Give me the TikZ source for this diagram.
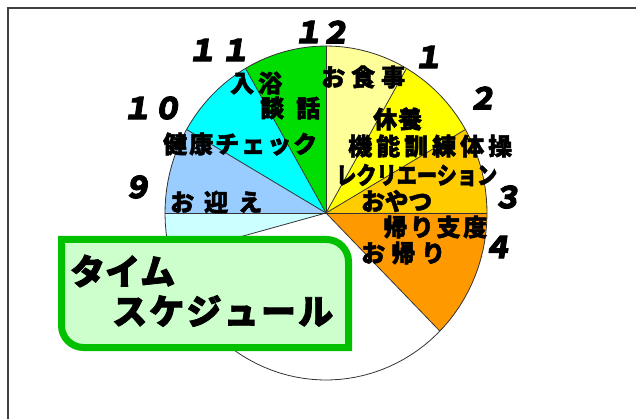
\documentclass[tikz,border=0pt]{standalone}
\usepackage{fontspec}
\usepackage{graphicx}
\newfontfamily\jp{Noto Sans CJK JP}
\definecolor{pLY}{HTML}{FFFF99}
\definecolor{pY}{HTML}{FFFF00}
\definecolor{pG}{HTML}{FFCC00}
\definecolor{pO}{HTML}{FF9900}
\definecolor{pLC}{HTML}{CCFFFF}
\definecolor{pLB}{HTML}{99CCFF}
\definecolor{pC}{HTML}{00FFFF}
\definecolor{pGr}{HTML}{00DD00}
\definecolor{boxFill}{HTML}{CCFFCC}
\definecolor{boxLine}{HTML}{00C000}
\def\pcx{326}\def\pcy{213}\def\prx{161}\def\pry{167}
\newcommand\sect[3]{\fill[#3] (O) -- plot[domain=#1:#2,samples=40] ({\pcx+\prx*sin(\x)},{\pcy-\pry*cos(\x)}) -- cycle;}
\newcommand\sprd[2]{\makebox[#1][s]{#2}}
\tikzset{
  pieline/.style={draw=black!80, line width=0.8pt},
  lbl/.style={inner sep=0, anchor=west, font=\jp\bfseries\addfontfeatures{FakeBold=2}\fontsize{24}{26}\selectfont},
  num/.style={inner sep=0, font=\jp\bfseries\addfontfeatures{FakeSlant=0.15,FakeBold=3}\fontsize{30}{30}\selectfont},
  ttl/.style={inner sep=0, anchor=west, font=\jp\bfseries\addfontfeatures{FakeBold=2.5}\fontsize{35}{36}\selectfont},
}
\begin{document}
\begin{tikzpicture}[x=1pt,y=-1pt]
\useasboundingbox (0,0) rectangle (636,419);
\fill[white] (0,0) rectangle (636,419);
\draw[line width=1.5pt, black!75] (8,419) -- (8,8) -- (636,8);
\coordinate (O) at (\pcx,\pcy);
% sectors
\sect{0}{30}{pLY}
\sect{30}{60}{pY}
\sect{60}{90}{pG}
\sect{90}{135}{pO}
\sect{135}{255}{white}
\sect{255}{270}{pLC}
\sect{270}{300}{pLB}
\sect{300}{330}{pC}
\sect{330}{360}{pGr}
\draw[pieline] plot[domain=0:360,samples=120] ({\pcx+\prx*sin(\x)},{\pcy-\pry*cos(\x)}) -- cycle;
\foreach \a in {0,30,60,90,135,255,270,300,330}
  \draw[pieline] (O) -- ({\pcx+\prx*sin(\a)},{\pcy-\pry*cos(\a)});
% labels
\node[lbl] (l1) at (321,77) {\sprd{84pt}{お\hfil 食\hfil 事}};
\node[lbl] (l2) at (373,119) {\sprd{49pt}{休\hfil 養}};
\node[lbl] (l3) at (348,146) {\sprd{164pt}{機\hfil 能\hfil 訓\hfil 練\hfil 体\hfil 操}};
\node[lbl] (l4) at (336,175) {\resizebox{161pt}{\height}{レクリエーション}};
\node[lbl] (l5) at (361,201) {\resizebox{71pt}{\height}{おやつ}};
\node[lbl] (l6) at (383,227) {\sprd{104pt}{帰\hfil り\hfil 支\hfil 度}};
\node[lbl] (l7) at (361,253) {\sprd{84pt}{お\hfil 帰\hfil り}};
\node[lbl] (l8) at (230,83) {\sprd{52pt}{入\hfil 浴}};
\node[lbl] (l9) at (260,108) {\sprd{60pt}{談\hfil 話}};
\node[lbl] (l10) at (163,144) {\sprd{154pt}{健\hfil 康\hfil チ\hfil ェ\hfil ッ\hfil ク}};
\node[lbl] (l11) at (170,202) {\sprd{92pt}{お\hfil 迎\hfil え}};
% clock numbers
\node[num] (n12a) at (308,32) {１};
\node[num] (n12b) at (335,32) {２};
\node[num] (n1) at (428,57) {１};
\node[num] (n2) at (482,98) {２};
\node[num] (n3) at (507,197) {３};
\node[num] (n4) at (497,247) {４};
\node[num] (n10a) at (137,108) {１};
\node[num] (n10b) at (167,108) {０};
\node[num] (n9) at (137,187) {９};
\node[num] (n11a) at (202,50) {１};
\node[num] (n11b) at (235,50) {１};
% title box
\draw[fill=boxFill, draw=boxLine, line width=7pt]
  (61.5,239.5) -- (326.5,239.5) .. controls (338.6,239.5) and (348.5,249.4) .. (348.5,261.5)
  -- (348.5,347.5) -- (83.5,347.5) .. controls (71.4,347.5) and (61.5,337.6) .. (61.5,325.5) -- cycle;
\node[ttl] (t1) at (70,271) {\sprd{104pt}{タ\hfil イ\hfil ム}};
\node[ttl] (t2) at (112,311) {\sprd{221pt}{ス\hfil ケ\hfil ジ\hfil ュ\hfil ー\hfil ル}};
\end{tikzpicture}
\end{document}
